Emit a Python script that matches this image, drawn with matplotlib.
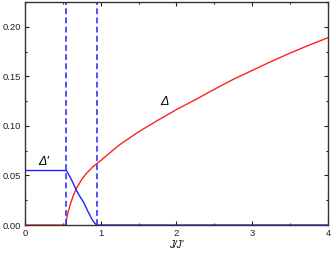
import matplotlib
matplotlib.use("Agg")
import matplotlib.pyplot as plt
from matplotlib.ticker import MultipleLocator

plt.rcParams["font.family"] = ["Liberation Sans", "DejaVu Sans"]

#gap Delta (red)
x_delta = [0.0, 0.54, 0.55, 0.57, 0.6, 0.64, 0.68, 0.75, 0.81, 0.85, 0.9, 0.95, 1.0,
           1.1, 1.25, 1.5, 1.75, 2.0, 2.25, 2.5, 2.75, 3.0, 3.25, 3.5, 3.75, 4.0]
y_delta = [0.0, 0.0, 0.006, 0.013, 0.021, 0.030, 0.037, 0.046, 0.052, 0.055, 0.059, 0.062, 0.065,
           0.0715, 0.081, 0.094, 0.1055, 0.1165, 0.1265, 0.137, 0.147, 0.156, 0.165, 0.1735, 0.1815, 0.189]

#gap Delta' (blue)
x_dprime = [0.0, 0.54, 0.55, 0.57, 0.6, 0.65, 0.68, 0.72, 0.77, 0.8, 0.83, 0.857, 0.88,
            0.9, 0.92, 0.935, 0.95, 4.0]
y_dprime = [0.055, 0.055, 0.0545, 0.052, 0.048, 0.040, 0.035, 0.0295, 0.0235, 0.019, 0.014, 0.010, 0.0065,
            0.004, 0.002, 0.0008, 0.0, 0.0]

#transition points
x_trans = [0.54, 0.955]

#_____________________________________________________________________________
def main():

    fig = plt.figure(figsize=(3.32, 2.56), dpi=100)
    ax = fig.add_axes([0.075, 0.121, 0.913, 0.871])

    ax.plot(x_delta, y_delta, "-", color="#ff2020", lw=1.0)
    ax.plot(x_dprime, y_dprime, "-", color="#2020ff", lw=1.0)

    for xt in x_trans:
        ax.axvline(xt, color="#3333ff", lw=1.2, ls=(0, (3.5, 2)))

    ax.set_xlim(0, 4)
    ax.set_ylim(0, 0.225)

    ax.xaxis.set_major_locator(MultipleLocator(1))
    ax.xaxis.set_minor_locator(MultipleLocator(0.5))
    ax.yaxis.set_major_locator(MultipleLocator(0.05))
    ax.yaxis.set_minor_locator(MultipleLocator(0.025))
    ax.yaxis.set_major_formatter(plt.FuncFormatter(lambda v, p: "%.2f" % v))

    ax.tick_params(which="both", direction="in", top=True, right=True,
                   labelsize=6.8, colors="#222222")
    ax.tick_params(axis="x", pad=3)
    ax.tick_params(axis="y", pad=3)
    ax.tick_params(which="major", length=3, width=0.8)
    ax.tick_params(which="minor", length=1.5, width=0.8)
    for s in ax.spines.values():
        s.set_color("#333333")
        s.set_linewidth(1.0)

    ax.set_xlabel("J/J'", fontsize=7, fontstyle="italic", labelpad=1)

    ax.text(0.17, 0.0606, "\u0394'", fontsize=9, fontstyle="italic")
    ax.text(1.78, 0.121, "\u0394", fontsize=9, fontstyle="italic")

    fig.savefig("out.png", dpi=100)
    plt.close()

#main

#_____________________________________________________________________________
if __name__ == "__main__":

    main()
